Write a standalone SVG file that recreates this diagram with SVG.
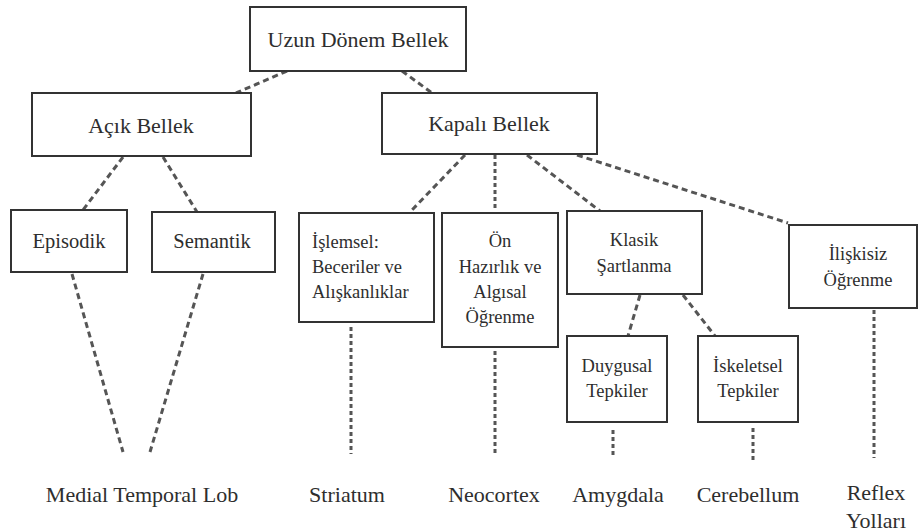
<svg xmlns="http://www.w3.org/2000/svg" width="920" height="532" viewBox="0 0 920 532" font-family="Liberation Serif, Times New Roman, serif">
<style>
.box{fill:#fff;stroke:#333;stroke-width:2}
.t{fill:#2e2e2e;text-anchor:middle}
.st{text-anchor:start}
.l{font-size:22px}
.m{font-size:20.5px}
.s{font-size:18.5px}
.c{stroke:#555;stroke-width:3;stroke-dasharray:6 4;fill:none}
.v{stroke:#555;stroke-width:3;stroke-dasharray:4 3;fill:none}
</style>
<rect width="920" height="532" fill="#fff"/>
<g id="connectors">
<line class="c" x1="287" y1="71" x2="236" y2="93"/>
<line class="c" x1="402" y1="71" x2="432" y2="93"/>
<line class="c" x1="123" y1="157" x2="83" y2="210"/>
<line class="c" x1="163" y1="157" x2="197" y2="212"/>
<line class="c" x1="465" y1="155" x2="412" y2="210"/>
<line class="v" x1="495" y1="155" x2="495" y2="210"/>
<line class="c" x1="527" y1="155" x2="600" y2="211"/>
<line class="c" x1="577" y1="155" x2="788" y2="223"/>
<line class="c" x1="640" y1="295" x2="628" y2="336"/>
<line class="c" x1="683" y1="295" x2="715" y2="336"/>
<line class="c" x1="72" y1="274" x2="123" y2="452"/>
<line class="c" x1="203" y1="274" x2="150" y2="452"/>
<line class="v" x1="351" y1="327" x2="351" y2="454"/>
<line class="v" x1="495" y1="351" x2="495" y2="454"/>
<line class="v" x1="613" y1="430" x2="613" y2="458"/>
<line class="v" x1="753" y1="428" x2="753" y2="460"/>
<line class="v" x1="874" y1="310" x2="874" y2="458"/>
</g>
<g id="uzun"><rect class="box" x="250" y="7" width="216" height="64"/><text class="t l" x="358" y="47">Uzun Dönem Bellek</text></g>
<g id="acik"><rect class="box" x="32" y="93" width="219" height="63"/><text class="t l" x="141" y="133">Açık Bellek</text></g>
<g id="kapali"><rect class="box" x="382" y="93" width="215" height="61"/><text class="t l" x="489" y="131">Kapalı Bellek</text></g>
<g id="episodik"><rect class="box" x="11" y="210" width="116" height="62"/><text class="t m" x="69" y="248">Episodik</text></g>
<g id="semantik"><rect class="box" x="152" y="212" width="123" height="60"/><text class="t m" x="212" y="248">Semantik</text></g>
<g id="islemsel"><rect class="box" x="299" y="213" width="135" height="109"/><text class="t s st" x="312" y="248">İşlemsel:</text><text class="t s st" x="312" y="273">Beceriler ve</text><text class="t s st" x="312" y="298">Alışkanlıklar</text></g>
<g id="on"><rect class="box" x="442" y="213" width="116" height="134"/><text class="t s" x="500" y="247">Ön</text><text class="t s" x="500" y="273">Hazırlık ve</text><text class="t s" x="500" y="298">Algısal</text><text class="t s" x="500" y="323">Öğrenme</text></g>
<g id="klasik"><rect class="box" x="567" y="211" width="135" height="83"/><text class="t s" x="634" y="246">Klasik</text><text class="t s" x="634" y="272">Şartlanma</text></g>
<g id="iliskisiz"><rect class="box" x="789" y="225" width="128" height="83"/><text class="t s" x="858" y="260">İlişkisiz</text><text class="t s" x="858" y="286">Öğrenme</text></g>
<g id="duygusal"><rect class="box" x="567" y="336" width="100" height="86"/><text class="t s" x="617" y="372">Duygusal</text><text class="t s" x="617" y="397">Tepkiler</text></g>
<g id="iskeletsel"><rect class="box" x="698" y="336" width="100" height="86"/><text class="t s" x="748" y="372">İskeletsel</text><text class="t s" x="748" y="397">Tepkiler</text></g>
<g id="labels">
<text class="t l" x="142" y="502">Medial Temporal Lob</text>
<text class="t l" x="347" y="502">Striatum</text>
<text class="t l" x="494" y="502">Neocortex</text>
<text class="t l" x="618" y="502">Amygdala</text>
<text class="t l" x="748" y="502">Cerebellum</text>
<text class="t l" x="876" y="500">Reflex</text>
<text class="t l" x="876" y="528">Yolları</text>
</g>
</svg>
